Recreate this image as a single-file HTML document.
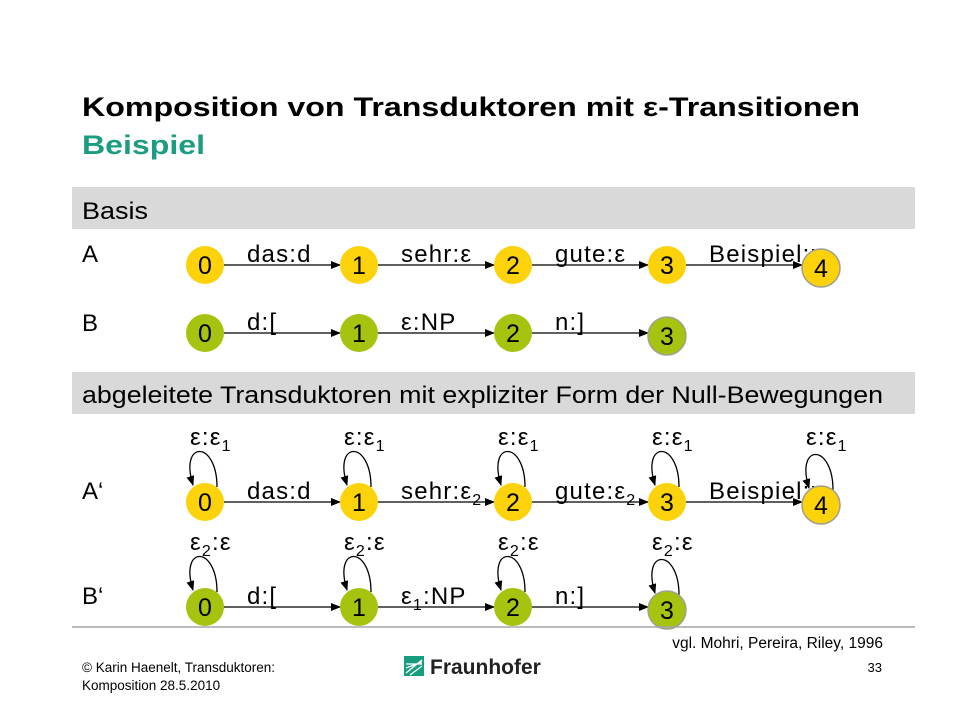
<!DOCTYPE html>
<html><head><meta charset="utf-8"><style>
html,body{margin:0;padding:0;background:#fff}
svg{display:block;font-family:"Liberation Sans",sans-serif}
</style></head><body>
<svg id="s" width="960" height="720" viewBox="0 0 960 720">
<defs><marker id="ar" markerWidth="10" markerHeight="8" refX="9" refY="4" orient="auto" markerUnits="userSpaceOnUse"><path d="M0,0 L10,4 L0,8 z" fill="#000"/></marker></defs>
<text x="82" y="116" font-size="27" font-weight="bold" fill="#000" textLength="778" lengthAdjust="spacingAndGlyphs">Komposition von Transduktoren mit ε-Transitionen</text>
<text x="82" y="154" font-size="27" font-weight="bold" fill="#1c9c80" textLength="123" lengthAdjust="spacingAndGlyphs">Beispiel</text>
<rect x="72" y="187" width="843" height="42" fill="#d9d9d9"/>
<text x="82" y="219" font-size="24" textLength="66" lengthAdjust="spacingAndGlyphs">Basis</text>
<rect x="72" y="372" width="843" height="42" fill="#d9d9d9"/>
<text x="82" y="403" font-size="24" textLength="801" lengthAdjust="spacingAndGlyphs">abgeleitete Transduktoren mit expliziter Form der Null-Bewegungen</text>
<text x="82" y="262" font-size="24">A</text>
<text x="82" y="331" font-size="24">B</text>
<text x="82" y="499" font-size="24">A‘</text>
<text x="82" y="604" font-size="24">B‘</text>
<g id="g"></g>
<line x1="72" y1="627" x2="915" y2="627" stroke="#a6a6a6" stroke-width="1.5"/>
<text x="883" y="648" font-size="15.5" text-anchor="end">vgl. Mohri, Pereira, Riley, 1996</text>
<text x="82" y="672" font-size="13.5">© Karin  Haenelt, Transduktoren:</text>
<text x="82" y="690" font-size="13.5">Komposition 28.5.2010</text>
<text x="882" y="672" font-size="13" text-anchor="end">33</text>
<g>
<rect x="404" y="656" width="20" height="20" fill="#179c7d"/>
<path d="M406,673 L422,660 M406,668 L422,662 M406,664 L422,664 M410,675 L422,666" stroke="#fff" stroke-width="1.3"/>
<text x="430" y="674" font-size="21" font-weight="bold" fill="#222">Fraunhofer</text>
</g>
</svg>
<script>
const NS="http://www.w3.org/2000/svg";
const g=document.getElementById('g');
const xs=[205,359,513,667,821];
const Y="#fcd20a",G="#a5c30f";
function el(t,a,p){const e=document.createElementNS(NS,t);for(const k in a)e.setAttribute(k,a[k]);(p||g).appendChild(e);return e;}
function lbl(x,y,html,name){const t=el('text',{x:x,y:y,'font-size':24,'letter-spacing':1.2});t.innerHTML=html;

}
function row(y,n,col,labels,loop,name){
 for(let i=0;i<n-1;i++){
  const l=el('line',{x1:xs[i]+19,y1:y,x2:xs[i+1]-19,y2:y,stroke:'#000','stroke-width':1.3,'marker-end':'url(#ar)'});
  
  
  lbl(xs[i]+42,y-3,labels[i],name+'-edge-label-'+i);
 }
 for(let i=0;i<n;i++){
  const fin=i==n-1;const cy=fin?y+3:y;
  if(loop&&(loop.n>i)){
   const p=el('path',{d:`M${xs[i]+12},${cy-15} C${xs[i]+12},${cy-62} ${xs[i]-26},${cy-62} ${xs[i]-12},${cy-17}`,fill:'none',stroke:'#000','stroke-width':1.3,'marker-end':'url(#ar)'});
   
   
   lbl(xs[i]-15,y-57,loop.t,name+'-loop-label-'+i);
  }
  const c=el('circle',{cx:xs[i],cy:cy,r:19,fill:col,stroke:fin?'#a0a090':'none','stroke-width':1.5});
  
  
  const t=el('text',{x:xs[i],y:cy+9,'font-size':25,'text-anchor':'middle'});t.textContent=i;
  
  
 }
}
const sub=s=>`<tspan font-size="16" dy="6">${s}</tspan>`;
row(265,5,Y,['das:d','sehr:ε','gute:ε','Beispiel:n'],null,'a');
row(333,4,G,['d:[','ε:NP','n:]'],null,'b');
row(502,5,Y,['das:d','sehr:ε'+sub('2'),'gute:ε'+sub('2'),'Beispiel:n'],{n:5,t:'ε:ε'+sub('1')},'a-prime');
row(607,4,G,['d:[','ε'+sub('1')+'<tspan dy="-6">:NP</tspan>','n:]'],{n:4,t:'ε'+sub('2')+'<tspan dy="-6">:ε</tspan>'},'b-prime');
</script>
</body></html>
